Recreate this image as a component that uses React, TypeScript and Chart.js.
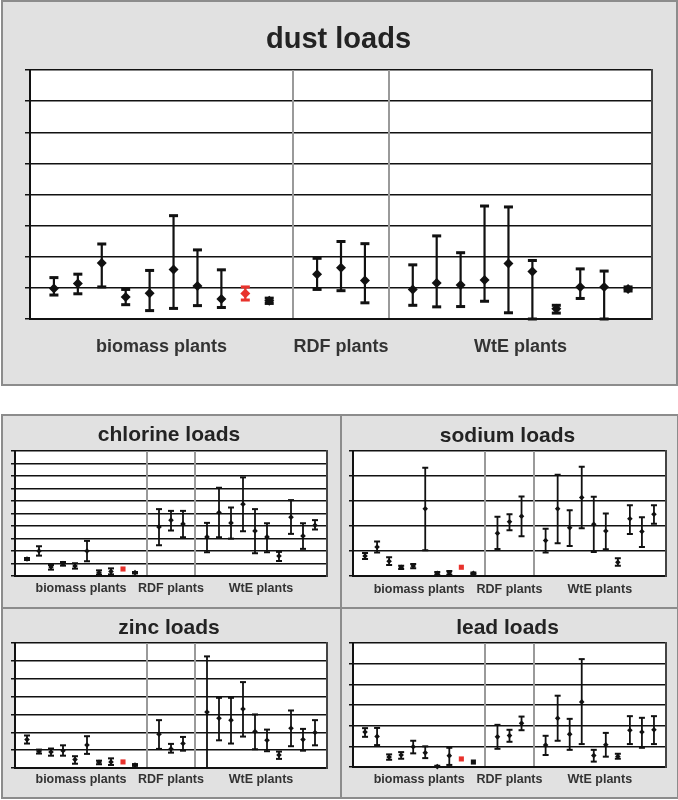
import React, { useEffect, useRef } from 'react';
import { Chart, registerables } from 'chart.js';

Chart.register(...registerables);

// ---------- data ----------
const plantPositions = [1, 2, 3, 4, 5, 6, 7, 8, 9, 10, 12, 13, 14, 16, 17, 18, 19, 20, 21, 22, 23, 24, 25];
const groupLabels = ['biomass plants', 'RDF plants', 'WtE plants'];
const groupLabelPositions = [5.5, 13, 20.5];
const separatorPositions = [11, 15];
const highlightIndex = 8;

const dustMean = [0.98, 1.14, 1.8, 0.71, 0.83, 1.59, 1.06, 0.64, 0.82, 0.59, 1.44, 1.65, 1.24, 0.95, 1.16, 1.09, 1.25, 1.78, 1.53, 0.33, 1.03, 1.03, 0.96];
const dustMin = [0.77, 0.81, 1.03, 0.46, 0.27, 0.34, 0.43, 0.37, 0.61, 0.5, 0.95, 0.91, 0.52, 0.44, 0.39, 0.4, 0.57, 0.2, 0.0, 0.19, 0.66, 0.0, 0.9];
const dustMax = [1.33, 1.44, 2.41, 0.95, 1.56, 3.32, 2.22, 1.58, 1.03, 0.67, 1.95, 2.49, 2.42, 1.74, 2.67, 2.13, 3.63, 3.6, 1.88, 0.44, 1.61, 1.54, 1.03];

const chlorineMean = [1.36, 2.0, 0.72, 0.99, 0.8, 2.0, 0.27, 0.37, 0.56, 0.27, 3.93, 4.47, 4.17, 3.13, 5.08, 4.25, 5.75, 3.61, 3.13, 1.6, 4.71, 3.21, 4.06];
const chlorineMin = [1.28, 1.63, 0.51, 0.83, 0.59, 1.18, 0.11, 0.13, 0.56, 0.21, 2.46, 3.64, 3.1, 1.9, 3.1, 2.99, 3.58, 1.82, 1.9, 1.2, 3.37, 2.17, 3.72];
const chlorineMax = [1.44, 2.38, 0.88, 1.12, 1.02, 2.81, 0.45, 0.61, 0.56, 0.32, 5.35, 5.21, 5.21, 4.25, 7.06, 5.48, 7.89, 5.35, 4.22, 1.93, 6.07, 4.22, 4.47];

const sodiumMean = [0.8, 1.16, 0.59, 0.35, 0.4, 2.69, 0.11, 0.13, 0.35, 0.11, 1.71, 2.17, 2.39, 1.42, 2.69, 1.93, 3.14, 2.07, 1.8, 0.55, 2.29, 1.78, 2.47];
const sodiumMin = [0.68, 0.94, 0.44, 0.28, 0.31, 1.03, 0.05, 0.05, 0.35, 0.08, 1.08, 1.83, 1.59, 0.94, 1.31, 1.2, 1.91, 0.96, 1.07, 0.41, 1.68, 1.16, 2.09];
const sodiumMax = [0.92, 1.38, 0.75, 0.41, 0.48, 4.33, 0.16, 0.2, 0.35, 0.14, 2.37, 2.47, 3.18, 1.89, 4.05, 2.63, 4.37, 3.17, 2.5, 0.71, 2.83, 2.35, 2.83];

const zincMean = [1.59, 0.92, 0.9, 0.97, 0.47, 1.29, 0.32, 0.34, 0.34, 0.17, 1.89, 1.07, 1.37, 3.13, 2.79, 2.68, 3.3, 2.04, 1.55, 0.73, 2.23, 1.59, 1.99];
const zincMin = [1.37, 0.81, 0.69, 0.69, 0.24, 0.79, 0.21, 0.17, 0.34, 0.12, 1.07, 0.86, 0.97, 0.0, 1.55, 1.37, 1.76, 1.05, 0.94, 0.51, 1.22, 0.97, 1.27];
const zincMax = [1.82, 1.03, 1.09, 1.27, 0.66, 1.78, 0.41, 0.54, 0.34, 0.22, 2.68, 1.35, 1.74, 6.25, 3.93, 3.93, 4.81, 3.0, 2.15, 0.92, 3.22, 2.19, 2.68];

const leadMean = [1.69, 1.48, 0.48, 0.58, 0.98, 0.69, 0.02, 0.55, 0.39, 0.24, 1.46, 1.52, 2.12, 1.06, 2.36, 1.59, 3.15, 0.56, 1.08, 0.51, 1.78, 1.69, 1.8];
const leadMin = [1.46, 1.06, 0.35, 0.4, 0.66, 0.43, 0.0, 0.1, 0.39, 0.24, 0.88, 1.22, 1.78, 0.58, 1.27, 0.83, 1.11, 0.26, 0.5, 0.4, 1.11, 0.93, 1.11];
const leadMax = [1.88, 1.89, 0.61, 0.72, 1.27, 1.0, 0.06, 0.93, 0.39, 0.24, 2.04, 1.8, 2.44, 1.51, 3.45, 2.33, 5.22, 0.83, 1.65, 0.64, 2.46, 2.38, 2.46];

// ---------- layout ----------
const FONT = '"Liberation Sans", Arial, Helvetica, sans-serif';

type Rect = { left: number; top: number; width: number; height: number };
type Area = { left: number; right: number; top: number; bottom: number };
type PanelSpec = {
  title: string;
  mean: number[];
  min: number[];
  max: number[];
  yMax: number;
  box: Rect;
  area: Area;
  titleCenter: number;
  titleSize: number;
  labelCenter: number;
  labelSize: number;
  tickLen: number;
  big: boolean;
  squareIdx: number[];
};

const panels: PanelSpec[] = [
  {
    title: 'dust loads', mean: dustMean, min: dustMin, max: dustMax, yMax: 8,
    box: { left: 0, top: 0, width: 678, height: 386 },
    area: { left: 30, right: 652, top: 70, bottom: 319 },
    titleCenter: 40, titleSize: 29, labelCenter: 347.5, labelSize: 18, tickLen: 5, big: true, squareIdx: [],
  },
  {
    title: 'chlorine loads', mean: chlorineMean, min: chlorineMin, max: chlorineMax, yMax: 10,
    box: { left: 0, top: 414, width: 341, height: 194 },
    area: { left: 15, right: 327, top: 451, bottom: 576 },
    titleCenter: 435.5, titleSize: 21, labelCenter: 589, labelSize: 12.5, tickLen: 4, big: false, squareIdx: [highlightIndex],
  },
  {
    title: 'sodium loads', mean: sodiumMean, min: sodiumMin, max: sodiumMax, yMax: 5,
    box: { left: 341, top: 414, width: 337, height: 194 },
    area: { left: 353, right: 666, top: 451, bottom: 576 },
    titleCenter: 436, titleSize: 21, labelCenter: 590, labelSize: 12.5, tickLen: 4, big: false, squareIdx: [highlightIndex],
  },
  {
    title: 'zinc loads', mean: zincMean, min: zincMin, max: zincMax, yMax: 7,
    box: { left: 0, top: 608, width: 341, height: 192 },
    area: { left: 15, right: 327, top: 643, bottom: 768 },
    titleCenter: 628.5, titleSize: 21, labelCenter: 780, labelSize: 12.5, tickLen: 4, big: false, squareIdx: [highlightIndex],
  },
  {
    title: 'lead loads', mean: leadMean, min: leadMin, max: leadMax, yMax: 6,
    box: { left: 341, top: 608, width: 337, height: 192 },
    area: { left: 353, right: 666, top: 643, bottom: 767 },
    titleCenter: 628.5, titleSize: 21, labelCenter: 780, labelSize: 12.5, tickLen: 4, big: false, squareIdx: [highlightIndex, 9],
  },
];

// ---------- plugins ----------
const plotBackground = {
  id: 'plotBackground',
  beforeDraw(chart: any) {
    const { ctx, chartArea: a } = chart;
    ctx.save();
    ctx.fillStyle = '#ffffff';
    ctx.fillRect(a.left, a.top, a.right - a.left, a.bottom - a.top);
    ctx.restore();
  },
};

const errorBars = {
  id: 'errorBars',
  beforeDatasetsDraw(chart: any, _args: any, opts: any) {
    const { ctx, scales } = chart;
    const x = scales.x;
    const y = scales.y;
    const ds = chart.data.datasets[0];
    ctx.save();
    ds.data.forEach((p: any, i: number) => {
      const lo = opts.min[i];
      const hi = opts.max[i];
      if (!(hi > lo)) return;
      const px = x.getPixelForValue(p.x);
      const yLo = y.getPixelForValue(lo);
      const yHi = y.getPixelForValue(hi);
      const color = opts.colors[i];
      ctx.strokeStyle = color;
      ctx.fillStyle = color;
      ctx.lineWidth = opts.lineWidth;
      ctx.beginPath();
      ctx.moveTo(px, yHi);
      ctx.lineTo(px, yLo);
      ctx.stroke();
      const w = opts.capWidth;
      const h = opts.capThickness;
      ctx.fillRect(px - w / 2, yHi - h / 2, w, h);
      ctx.fillRect(px - w / 2, yLo - h / 2, w, h);
    });
    ctx.restore();
  },
};

function ChartPanel({ spec }: { spec: PanelSpec }) {
  const ref = useRef<HTMLCanvasElement | null>(null);
  const b = spec.box;

  useEffect(() => {
    const canvas = ref.current;
    if (!canvas) return;
    const s = spec;
    const tl = s.tickLen;
    const padLeft = s.area.left - b.left - tl;
    const padRight = b.left + b.width - s.area.right;
    const titleLH = s.titleSize * 1.2;
    const padTop = s.titleCenter - b.top - titleLH / 2;
    const titlePadBottom = s.area.top - b.top - padTop - titleLH;
    const labelLH = s.labelSize * 1.2;
    const tickPad = s.labelCenter - s.area.bottom - labelLH / 2;
    // Chart.js reserves the tick padding on both sides of the labels
    const padBottom = b.top + b.height - s.area.bottom - 2 * tickPad - labelLH;

    const colors = plantPositions.map((_, i) => (i === highlightIndex ? '#e8322c' : '#111111'));
    const styles = plantPositions.map((_, i) => (s.squareIdx.includes(i) ? 'rect' : 'rectRot'));
    const radii = plantPositions.map((_, i) =>
      s.squareIdx.includes(i) ? (s.big ? 6 : 3.6) : s.big ? 5 : 2.8
    );

    const chart = new Chart(canvas, {
      type: 'scatter',
      data: {
        datasets: [
          {
            data: plantPositions.map((px, i) => ({ x: px, y: s.mean[i] })),
            pointStyle: styles as any,
            pointRadius: radii,
            pointHoverRadius: radii,
            pointBackgroundColor: colors,
            pointBorderColor: colors,
            pointBorderWidth: 0,
            showLine: false,
            clip: 10,
          } as any,
        ],
      },
      options: {
        animation: false,
        responsive: false,
        maintainAspectRatio: false,
        devicePixelRatio: 1,
        events: [],
        layout: { padding: { left: padLeft, right: padRight, top: padTop, bottom: padBottom } },
        plugins: {
          legend: { display: false },
          tooltip: { enabled: false },
          title: {
            display: true,
            text: s.title,
            color: '#232323',
            font: { family: FONT, size: s.titleSize, weight: 'bold', lineHeight: 1.2 },
            padding: { top: 0, bottom: titlePadBottom },
          },
          errorBars: {
            min: s.min,
            max: s.max,
            colors,
            lineWidth: s.big ? 2.2 : 1.8,
            capWidth: s.big ? 9 : 6,
            capThickness: s.big ? 3 : 2,
          },
        } as any,
        scales: {
          x: {
            type: 'linear',
            position: 'bottom',
            min: 0,
            max: 26,
            afterBuildTicks: (axis: any) => {
              axis.ticks = groupLabelPositions.map((v) => ({ value: v }));
            },
            ticks: {
              autoSkip: false,
              maxRotation: 0,
              minRotation: 0,
              padding: tickPad,
              color: '#333333',
              font: { family: FONT, size: s.labelSize, weight: 'bold', lineHeight: 1.2 },
              callback: (_v: any, i: number) => groupLabels[i],
            },
            grid: { display: false, drawTicks: false },
            border: { display: true, color: '#111111', width: 2 },
          },
          x2: {
            type: 'linear',
            position: 'bottom',
            min: 0,
            max: 26,
            afterBuildTicks: (axis: any) => {
              axis.ticks = separatorPositions.map((v) => ({ value: v }));
            },
            ticks: { display: false },
            grid: { display: true, drawTicks: false, color: '#9a9a9a', lineWidth: 2, z: -0.5 } as any,
            border: { display: false },
          },
          y: {
            type: 'linear',
            position: 'left',
            min: 0,
            max: s.yMax,
            ticks: { display: false, stepSize: 1 },
            grid: { color: '#111111', lineWidth: 1.5, tickLength: tl, drawTicks: true },
            border: { display: true, color: '#111111', width: 2 },
          },
          y2: {
            type: 'linear',
            position: 'right',
            min: 0,
            max: s.yMax,
            ticks: { display: false },
            grid: { display: false, drawTicks: false },
            border: { display: true, color: '#444444', width: 2 },
          },
        } as any,
      },
      plugins: [plotBackground, errorBars],
    });
    return () => chart.destroy();
  }, [spec]);

  return (
    <canvas
      ref={ref}
      width={b.width}
      height={b.height}
      style={{ position: 'absolute', left: b.left, top: b.top, width: b.width, height: b.height }}
    />
  );
}

const frameStyle = (left: number, top: number, width: number, height: number): React.CSSProperties => ({
  position: 'absolute',
  left,
  top,
  width,
  height,
  boxSizing: 'border-box',
  border: '2px solid #8c8c8c',
  background: '#e1e1e1',
});

export default function App() {
  return (
    <div style={{ position: 'absolute', left: 0, top: 0, width: 678, height: 800, background: '#ffffff', overflow: 'hidden' }}>
      <div style={frameStyle(1, 0, 677, 386)} />
      <div style={frameStyle(1, 414, 341, 195)} />
      <div style={frameStyle(340, 414, 339, 195)} />
      <div style={frameStyle(1, 607, 341, 192)} />
      <div style={frameStyle(340, 607, 339, 192)} />
      {panels.map((p) => (
        <ChartPanel key={p.title} spec={p} />
      ))}
    </div>
  );
}
